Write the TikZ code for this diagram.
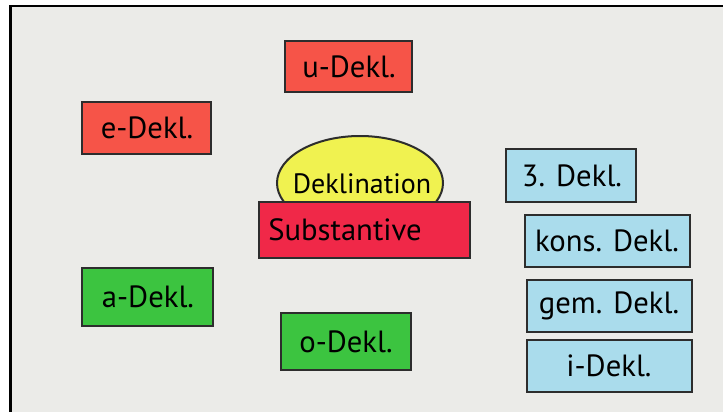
\documentclass[tikz,border=0pt]{standalone}
\usepackage{fontspec}
\setmainfont{PT Sans}
\definecolor{board}{RGB}{235,235,232}
\definecolor{cardred}{RGB}{246,84,72}
\definecolor{cardcrimson}{RGB}{240,40,72}
\definecolor{cardyellow}{RGB}{240,242,80}
\definecolor{cardgreen}{RGB}{60,196,64}
\definecolor{cardblue}{RGB}{170,220,236}
\definecolor{cardedge}{RGB}{45,45,45}
\tikzset{
  card/.style={draw=cardedge, line width=1.5},
  word/.style={font=\fontsize{23}{27}\selectfont, text=black}
}

\begin{document}
\begin{tikzpicture}[x=0.75pt,y=0.75pt,yscale=-1,xscale=1]
\useasboundingbox (0,0) rectangle (725,412);

%Background
\fill [white] (0,0) rectangle (725,412);
\fill [board] (10,6) rectangle (723,412);
%Frame Lines
\draw [line width=2.2] (9,6) -- (723,6) ;
\draw [line width=2.2] (10.5,5) -- (10.5,412) ;

%Shape: Rectangle [id:udekl]
\draw [card, fill=cardred] (285,41) rectangle (412,92) ;
%Shape: Rectangle [id:edekl]
\draw [card, fill=cardred] (82,102) rectangle (211,154) ;
%Shape: Ellipse [id:dekl]
\draw [card, fill=cardyellow] (360,183) ellipse (83 and 47) ;
%Shape: Rectangle [id:subst]
\draw [card, fill=cardcrimson] (259,202) rectangle (470,258) ;
%Shape: Rectangle [id:adekl]
\draw [card, fill=cardgreen] (82,268) rectangle (213,326) ;
%Shape: Rectangle [id:odekl]
\draw [card, fill=cardgreen] (281,313) rectangle (411,370) ;
%Shape: Rectangle [id:drittedekl]
\draw [card, fill=cardblue] (506,149) rectangle (636,202) ;
%Shape: Rectangle [id:konsdekl]
\draw [card, fill=cardblue] (525,215) rectangle (690,267) ;
%Shape: Rectangle [id:gemdekl]
\draw [card, fill=cardblue] (527,280) rectangle (692,332) ;
%Shape: Rectangle [id:idekl]
\draw [card, fill=cardblue] (527,340) rectangle (692,392) ;

% Text Node
\draw (349,67) node [word] (udekltext) {u-Dekl.};
% Text Node
\draw (147,128) node [word] (edekltext) {e-Dekl.};
% Text Node
\draw (362,184) node [word, font=\fontsize{21}{25}\selectfont] (dekltext) {Deklination};
% Text Node
\draw (345,230) node [word] (substtext) {Substantive};
% Text Node
\draw (148,297) node [word] (adekltext) {a-Dekl.};
% Text Node
\draw (346,342) node [word] (odekltext) {o-Dekl.};
% Text Node
\draw (572,176) node [word] (drittetext) {3. Dekl.};
% Text Node
\draw (607,241) node [word] (konstext) {kons. Dekl.};
% Text Node
\draw (609,306) node [word] (gemtext) {gem. Dekl.};
% Text Node
\draw (609,366) node [word] (idekltext) {i-Dekl.};

\end{tikzpicture}
\end{document}
